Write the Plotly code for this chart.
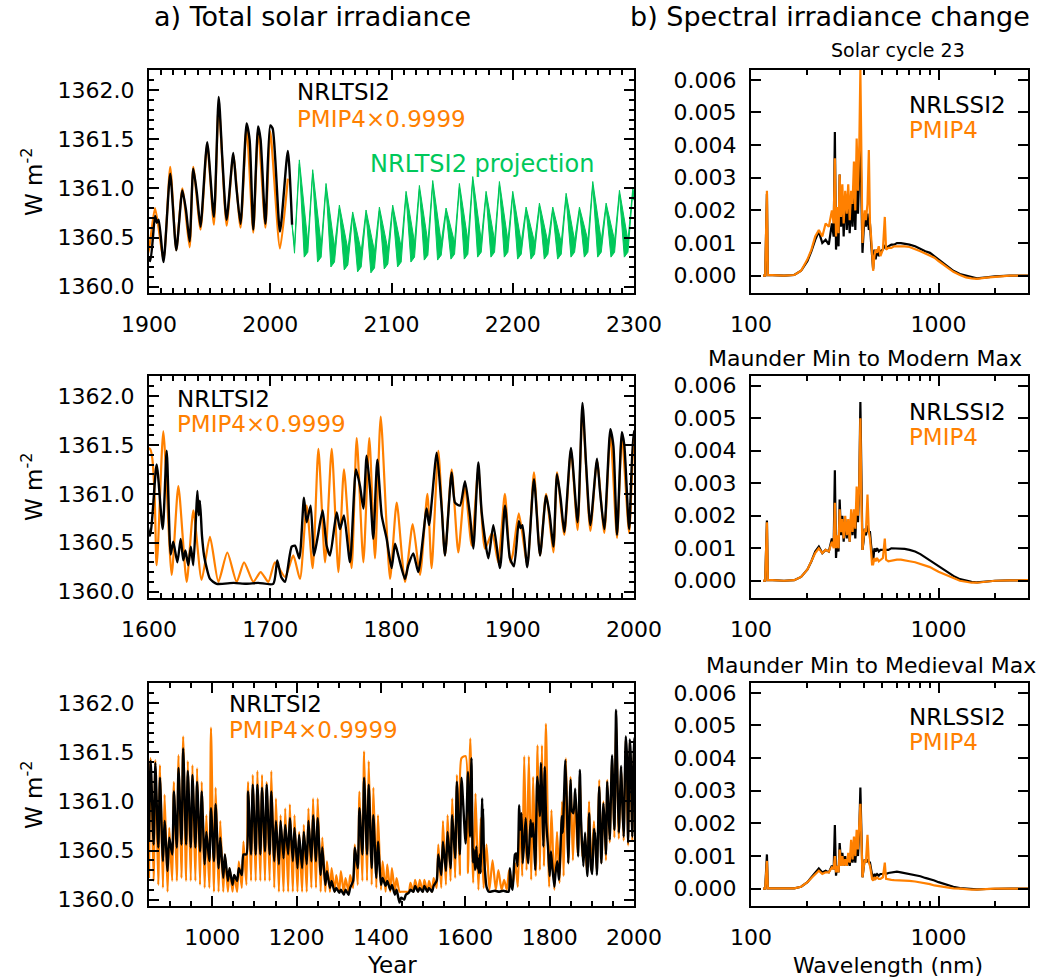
import plotly.graph_objects as go

# ---------------- DATA ----------------
# NRLTSI2 (W m-2), 1600-2018, read from panels a (middle/top)
NRL_YEARS = [1600.8, 1606.3, 1611.3, 1614.6, 1617.9, 1620.0, 1623.4, 1626.1, 1628.3, 1630.0,
             1632.4, 1634.5, 1636.5, 1638.8, 1639.9, 1641.0, 1642.0, 1643.7, 1645.4, 1647.6,
             1650.3, 1655.8, 1670, 1680, 1690, 1702.5, 1705.8, 1709, 1712.2, 1717.7,
             1720.4, 1724.0, 1727.8, 1730.0, 1733.3, 1736.1, 1739, 1743.2, 1746.5, 1749.3,
             1754.8, 1757.5, 1760.8, 1765.8, 1770.7, 1774.0, 1776.8, 1779.5, 1782.3, 1785.0,
             1788.3, 1791.9, 1796.0, 1800.1, 1802.9, 1805.6, 1811.1, 1813.9, 1818.0, 1822.1,
             1829.0, 1831, 1837.3, 1841.4, 1844.1, 1849.6, 1852.4, 1856.5, 1860.6, 1864.7,
             1867.5, 1871.6, 1874.4, 1879.9, 1884.0, 1889.5, 1893.6, 1897.7, 1901.0, 1905.0,
             1906.5, 1908.0, 1912.0, 1917.5, 1922.5, 1927.5, 1930.5, 1933.5, 1936.5, 1939.5,
             1942.5, 1948.0, 1953.5, 1957.5, 1960.5, 1964.0, 1969.5, 1972.0, 1975.5, 1980.5,
             1983.0, 1986.0, 1990.0, 1992.0, 1996.0, 2000.0, 2002.0, 2008.0, 2014.5, 2018.0]
NRL_VALS = [1360.57, 1361.30, 1360.64, 1361.44, 1360.38, 1360.51, 1360.30, 1360.54, 1360.32, 1360.42,
            1360.27, 1360.46, 1360.27, 1360.78, 1361.03, 1360.78, 1360.93, 1360.57, 1360.37, 1360.24,
            1360.13, 1360.08, 1360.09, 1360.08, 1360.09, 1360.08, 1360.32, 1360.15, 1360.10, 1360.46,
            1360.47, 1360.34, 1360.96, 1360.71, 1360.88, 1360.37, 1360.55, 1360.83, 1360.47, 1360.37,
            1360.81, 1360.64, 1360.78, 1360.30, 1361.25, 1361.08, 1360.85, 1361.39, 1361.05, 1360.54,
            1361.35, 1360.78, 1360.54, 1360.24, 1360.49, 1360.37, 1360.13, 1360.27, 1360.39, 1360.20,
            1360.85, 1360.68, 1361.42, 1360.85, 1360.37, 1361.22, 1360.91, 1360.88, 1361.13, 1360.78,
            1360.44, 1361.32, 1360.81, 1360.34, 1360.68, 1360.24, 1360.88, 1360.34, 1360.26, 1360.72,
            1360.65, 1360.68, 1360.25, 1361.15, 1360.37, 1360.98, 1360.78, 1360.46, 1361.20, 1360.95,
            1360.61, 1361.47, 1360.71, 1361.93, 1361.30, 1360.68, 1361.36, 1361.02, 1360.64, 1361.66,
            1361.49, 1360.58, 1361.63, 1361.50, 1360.64, 1361.64, 1361.61, 1360.56, 1361.38, 1360.63]

# PMIP4 x 0.9999 (W m-2), 1600-2015
PMIP_YEARS = [1600.8, 1606.3, 1611.8, 1618.7, 1624.2, 1631.1, 1636.6, 1643.4, 1650.3, 1657.2,
              1664.6, 1672.3, 1678.4, 1686.0, 1692.1, 1698.4, 1703.9, 1712.2, 1719.0, 1724.5,
              1730.0, 1735.0, 1739.7, 1745.2, 1750.7, 1756.2, 1760.8, 1767.1, 1771.3, 1776.8,
              1781.7, 1786.4, 1791.1, 1798.8, 1804.3, 1811.1, 1817.5, 1823.5, 1829.6, 1833.1,
              1838.6, 1844.1, 1849.6, 1855.1, 1860.6, 1866.1, 1871.6, 1877.1, 1883.0, 1888.0,
              1893.5, 1898.0, 1900.0, 1905.0, 1912.0, 1917.5, 1922.5, 1927.5, 1933.5, 1936.5,
              1942.5, 1948.0, 1953.5, 1957.5, 1964.0, 1969.5, 1975.5, 1980.5, 1986.0, 1990.0,
              1996.0, 2000.0, 2008.0, 2014.5]
PMIP_VALS = [1361.46, 1360.27, 1361.64, 1360.17, 1361.08, 1360.10, 1360.83, 1360.12, 1360.56, 1360.10,
             1360.40, 1360.10, 1360.30, 1360.10, 1360.20, 1360.10, 1360.30, 1360.15, 1360.37, 1360.13,
             1360.88, 1360.24, 1361.46, 1360.30, 1361.46, 1360.20, 1361.25, 1360.24, 1361.57, 1360.30,
             1361.57, 1360.34, 1361.79, 1360.13, 1360.91, 1360.10, 1360.69, 1360.17, 1361.00, 1360.24,
             1361.44, 1360.37, 1361.25, 1360.40, 1361.08, 1360.47, 1361.25, 1360.44, 1360.60, 1360.30,
             1361.00, 1360.30, 1360.38, 1360.80, 1360.28, 1361.22, 1360.37, 1361.00, 1360.40, 1361.22,
             1360.58, 1361.45, 1360.63, 1361.85, 1360.62, 1361.34, 1360.60, 1361.62, 1360.55, 1361.60,
             1360.60, 1361.58, 1360.39, 1361.10]

# 850-1595: cycle minima / maxima
MED_MIN_YEARS = [850, 861, 872, 883, 894, 905, 916, 927, 938, 949, 960, 971, 982, 993, 1004, 1015, 1026,
                 1037, 1048, 1059, 1070, 1081, 1092, 1103, 1114, 1125, 1136, 1147, 1158, 1169, 1180,
                 1191, 1202, 1213, 1224, 1235, 1246, 1257, 1268, 1279, 1290, 1301, 1312, 1323, 1334,
                 1345, 1356, 1367, 1378, 1389, 1400, 1411, 1422, 1433, 1444, 1455, 1466, 1477, 1488,
                 1499, 1510, 1521, 1532, 1543, 1554, 1565, 1576, 1587]
MED_MAX_YEARS = [854, 865, 876, 887, 898, 909, 920, 931, 942, 953, 964, 975, 986, 997, 1008, 1019, 1030,
                 1041, 1052, 1063, 1074, 1085, 1096, 1107, 1118, 1129, 1140, 1151, 1162, 1173, 1184,
                 1195, 1206, 1217, 1228, 1239, 1250, 1261, 1272, 1283, 1294, 1305, 1316, 1327, 1338,
                 1349, 1360, 1371, 1382, 1393, 1404, 1415, 1426, 1437, 1448, 1459, 1470, 1481, 1492,
                 1503, 1514, 1525, 1536, 1547, 1558, 1569, 1580, 1591]
MED_PMIP_MAX = [1361.44, 1361.42, 1361.37, 1361.07, 1360.73, 1361.20, 1361.47, 1361.66, 1361.41, 1361.37,
                1361.34, 1361.20, 1360.86, 1361.75, 1361.14, 1360.80, 1360.46, 1360.32, 1360.25, 1360.39,
                1360.59, 1361.20, 1361.27, 1361.31, 1361.27, 1361.20, 1361.31, 1361.03, 1360.86, 1360.93,
                1360.97, 1360.86, 1360.69, 1360.76, 1360.93, 1361.03, 1361.03, 1360.63, 1360.39, 1360.32,
                1360.25, 1360.29, 1360.22, 1360.25, 1360.56, 1361.10, 1361.51, 1361.41, 1361.14, 1360.86,
                1360.39, 1360.36, 1360.32, 1360.22, 1360.08, 1360.08, 1360.17, 1360.20, 1360.20, 1360.20,
                1360.19, 1360.22, 1360.56, 1360.80, 1360.86, 1361.03, 1361.27, 1361.44]
MED_PMIP_MIN = [1360.22, 1360.19, 1360.15, 1360.12, 1360.08, 1360.19, 1360.19, 1360.22, 1360.19, 1360.19,
                1360.19, 1360.15, 1360.12, 1360.12, 1360.08, 1360.08, 1360.08, 1360.08, 1360.08, 1360.08,
                1360.12, 1360.15, 1360.19, 1360.19, 1360.19, 1360.19, 1360.19, 1360.12, 1360.08, 1360.08,
                1360.08, 1360.08, 1360.08, 1360.08, 1360.08, 1360.12, 1360.12, 1360.08, 1360.08, 1360.08,
                1360.08, 1360.08, 1360.07, 1360.08, 1360.12, 1360.15, 1360.19, 1360.19, 1360.15, 1360.12,
                1360.10, 1360.08, 1360.08, 1360.08, 1360.08, 1360.08, 1360.08, 1360.08, 1360.08, 1360.08,
                1360.08, 1360.08, 1360.12, 1360.12, 1360.15, 1360.19, 1360.22, 1360.25]
MED_NRL_MAX = [1361.41, 1361.39, 1361.24, 1360.80, 1360.63, 1361.10, 1361.34, 1361.54, 1361.31, 1361.27,
               1361.20, 1361.10, 1360.69, 1360.93, 1360.97, 1360.63, 1360.46, 1360.32, 1360.25, 1360.32,
               1360.46, 1361.10, 1361.17, 1361.17, 1361.14, 1361.17, 1361.10, 1360.80, 1360.80, 1360.76,
               1360.83, 1360.73, 1360.66, 1360.69, 1360.80, 1360.86, 1360.83, 1360.53, 1360.29, 1360.19,
               1360.12, 1360.10, 1360.10, 1360.12, 1360.53, 1360.93, 1361.24, 1361.17, 1360.86, 1360.59,
               1360.22, 1360.19, 1360.15, 1360.10, 1360.02, 1360.05, 1360.10, 1360.14, 1360.12, 1360.14,
               1360.12, 1360.14, 1360.46, 1360.59, 1360.69, 1360.86, 1361.20, 1361.24]
MED_NRL_MIN = [1360.59, 1360.56, 1360.53, 1360.39, 1360.29, 1360.46, 1360.53, 1360.56, 1360.56, 1360.53,
               1360.53, 1360.49, 1360.36, 1360.39, 1360.39, 1360.32, 1360.22, 1360.19, 1360.15, 1360.19,
               1360.25, 1360.46, 1360.46, 1360.46, 1360.46, 1360.49, 1360.46, 1360.39, 1360.36, 1360.42,
               1360.46, 1360.39, 1360.32, 1360.32, 1360.36, 1360.39, 1360.39, 1360.25, 1360.15, 1360.12,
               1360.08, 1360.07, 1360.05, 1360.05, 1360.19, 1360.32, 1360.46, 1360.46, 1360.32, 1360.22,
               1360.15, 1360.14, 1360.10, 1360.05, 1359.97, 1360.00, 1360.07, 1360.08, 1360.08, 1360.08,
               1360.08, 1360.08, 1360.19, 1360.25, 1360.29, 1360.32, 1360.42, 1360.46]

# NRLTSI2 projection: per-cycle peak year / peak value and the band's upper/lower minima
PROJ_PEAK_YEARS = [2024, 2035, 2046, 2057, 2068, 2079, 2090, 2101, 2112, 2123, 2134, 2145, 2156,
                   2167, 2178, 2189, 2200, 2211, 2222, 2233, 2244, 2255, 2266, 2277, 2288, 2299]
PROJ_PEAK = [1361.29, 1361.19, 1361.05, 1360.83, 1360.76, 1360.78, 1360.81, 1360.83, 1360.97, 1361.03,
             1361.08, 1360.80, 1361.05, 1361.12, 1360.97, 1361.07, 1360.97, 1360.81, 1360.85, 1360.81,
             1360.95, 1360.81, 1361.07, 1360.85, 1360.98, 1361.00]
PROJ_MIN_UP = [1360.45, 1360.42, 1360.40, 1360.38, 1360.36, 1360.36, 1360.38, 1360.40, 1360.45, 1360.45,
               1360.45, 1360.45, 1360.47, 1360.47, 1360.47, 1360.47, 1360.45, 1360.45, 1360.45, 1360.45,
               1360.47, 1360.47, 1360.47, 1360.47, 1360.47, 1360.47]
PROJ_MIN_LO = [1360.30, 1360.25, 1360.20, 1360.17, 1360.15, 1360.14, 1360.18, 1360.20, 1360.25, 1360.27,
               1360.27, 1360.28, 1360.28, 1360.30, 1360.30, 1360.30, 1360.28, 1360.28, 1360.28, 1360.28,
               1360.30, 1360.30, 1360.30, 1360.30, 1360.30, 1360.30]
PROJ_START = (2018.0, 1360.63)
PROJ_FIRST_MIN = (2020.0, 1360.42)

# Spectral irradiance change (units of 1e-3 W m-2 nm-1) on a common wavelength grid (nm)
WL = [116, 119, 121.6, 123, 130, 150, 170, 185, 200, 210, 220, 230, 240, 250, 260, 270, 276, 280, 284, 288,
      293, 297, 302, 307, 312, 318, 324, 330, 336, 342, 348, 354, 360, 366, 372, 378, 383, 388, 393, 398,
      404, 410, 418, 425, 431, 437, 442, 448, 455, 462, 470, 480, 490, 505, 517, 525, 540, 560, 580, 600,
      630, 660, 700, 750, 800, 850, 900, 950, 1000, 1100, 1200, 1300, 1400, 1500, 1600, 1800, 2000, 2400, 3000]
SC23_NRL = [0, 0, 2.5, 0.02, 0.02, 0.0, 0.02, 0.15, 0.45, 0.75, 1.1, 1.35, 1.0, 1.1, 0.95, 1.6, 1.2, 4.4, 0.8, 1.6,
            0.9, 3.1, 1.5, 2.4, 1.2, 2.5, 1.4, 2.2, 1.3, 2.3, 1.5, 2.6, 1.4, 2.9, 1.9, 3.5, 4.3, 2.4, 0.7, 1.3,
            1.9, 1.5, 1.9, 1.4, 1.6, 1.0, 0.6, 0.2, 0.8, 0.5, 0.8, 0.6, 0.75, 0.8, 0.9, 0.85, 0.9, 0.95, 0.95, 1.0,
            1.0, 0.98, 0.95, 0.9, 0.82, 0.75, 0.7, 0.6, 0.5, 0.3, 0.15, 0.05, 0.0, -0.05, -0.08, -0.05, -0.02, 0.0, 0.0]
SC23_PMIP = [0, 0, 2.6, 0.02, 0.02, 0.0, 0.02, 0.15, 0.5, 0.8, 1.2, 1.4, 1.2, 1.6, 1.5, 2.0, 1.6, 3.6, 1.2, 2.1,
             1.3, 3.1, 1.8, 2.8, 1.6, 2.6, 1.9, 2.8, 1.7, 2.6, 2.2, 3.5, 2.0, 4.2, 2.6, 4.0, 6.3, 3.0, 1.0, 1.6,
             2.0, 1.7, 2.2, 3.85, 1.6, 1.2, 0.5, 0.15, 0.6, 0.8, 0.7, 0.9, 0.6, 0.8, 1.8, 0.8, 0.85, 0.85, 0.9, 0.9,
             0.92, 0.9, 0.88, 0.82, 0.75, 0.68, 0.62, 0.55, 0.45, 0.28, 0.12, 0.02, -0.05, -0.08, -0.1, -0.06, -0.03, 0.0, 0.0]
MOD_NRL = [0, 0, 1.85, 0.02, 0.02, 0.0, 0.02, 0.12, 0.35, 0.6, 0.9, 1.05, 0.85, 0.95, 0.9, 1.3, 1.1, 3.4, 0.7, 1.3,
           0.9, 2.5, 1.4, 2.0, 1.2, 1.9, 1.3, 1.8, 1.2, 2.0, 1.4, 2.1, 1.3, 2.4, 1.8, 3.0, 5.5, 2.6, 0.95, 1.2,
           1.6, 1.4, 1.7, 1.5, 1.5, 1.1, 0.8, 0.6, 1.0, 0.9, 1.0, 0.9, 0.95, 0.95, 0.95, 0.95, 0.95, 1.0, 1.0, 1.0,
           1.0, 0.98, 0.95, 0.9, 0.82, 0.72, 0.65, 0.55, 0.45, 0.3, 0.15, 0.05, 0.0, -0.03, -0.05, -0.02, 0.0, 0.01, 0.02]
MOD_PMIP = [0, 0, 1.8, 0.02, 0.02, 0.0, 0.02, 0.12, 0.35, 0.6, 0.85, 1.0, 0.85, 0.95, 0.9, 1.2, 1.0, 2.4, 1.0, 1.4,
            1.0, 2.2, 1.5, 1.9, 1.3, 2.0, 1.4, 1.9, 1.2, 2.2, 1.5, 2.2, 1.6, 2.9, 2.0, 3.0, 5.0, 2.5, 0.95, 1.3,
            1.6, 1.5, 2.65, 1.5, 1.3, 0.9, 0.5, 0.5, 0.7, 0.6, 0.7, 0.6, 0.65, 0.7, 1.3, 0.65, 0.6, 0.62, 0.65, 0.65,
            0.65, 0.62, 0.6, 0.57, 0.52, 0.45, 0.42, 0.35, 0.28, 0.18, 0.08, 0.0, -0.03, -0.06, -0.06, -0.03, 0.0, 0.01, 0.02]
MED_NRL_SSI = [0, 0, 1.05, 0.01, 0.01, 0.0, 0.01, 0.06, 0.2, 0.35, 0.5, 0.62, 0.5, 0.55, 0.5, 0.7, 0.6, 1.95, 0.4, 0.7,
               0.5, 1.4, 0.8, 1.1, 0.7, 1.0, 0.7, 0.95, 0.7, 1.1, 0.8, 1.2, 0.8, 1.4, 1.0, 1.8, 3.1, 1.4, 0.35, 0.6,
               0.9, 0.8, 0.9, 0.8, 0.8, 0.6, 0.4, 0.25, 0.45, 0.4, 0.45, 0.4, 0.45, 0.45, 0.5, 0.45, 0.48, 0.5, 0.52, 0.52,
               0.5, 0.48, 0.46, 0.42, 0.38, 0.33, 0.3, 0.25, 0.2, 0.12, 0.06, 0.02, 0.0, -0.02, -0.02, -0.01, 0.0, 0.0, 0.0]
MED_PMIP_SSI = [0, 0, 0.85, 0.01, 0.01, 0.0, 0.01, 0.06, 0.2, 0.33, 0.45, 0.55, 0.45, 0.5, 0.5, 0.65, 0.6, 1.0, 0.5, 0.7,
                0.5, 1.2, 0.7, 1.0, 0.7, 0.9, 0.7, 1.1, 0.8, 1.5, 0.9, 1.6, 1.0, 1.8, 1.2, 1.9, 2.6, 1.5, 0.35, 0.6,
                0.9, 0.8, 1.65, 0.8, 0.7, 0.5, 0.3, 0.25, 0.35, 0.3, 0.35, 0.3, 0.3, 0.35, 0.8, 0.3, 0.28, 0.27, 0.26, 0.26,
                0.25, 0.25, 0.24, 0.22, 0.2, 0.17, 0.14, 0.1, 0.08, 0.04, 0.01, 0.0, -0.02, -0.03, -0.03, -0.01, 0.0, 0.0, 0.0]

# ---------------- FIGURE ----------------
W, H = 1059, 978
BLACK = "black"
ORANGE = "#ff8000"
GREEN = "#00c85a"
FONT = "DejaVu Sans"
TICKFONT = dict(family=FONT, size=22, color="black")

def dom_x(a, b):
    return [a / W, b / W]

def dom_y(t, b):
    return [1 - b / H, 1 - t / H]

LX = (149, 634)
RX = (751, 1028)
ROWS = [(70, 293), (376, 598), (683, 906)]

# full TSI series
nrl_x, nrl_y, pm_x, pm_y = [], [], [], []
for i in range(len(MED_MIN_YEARS)):
    nrl_x += [MED_MIN_YEARS[i], MED_MAX_YEARS[i]]
    nrl_y += [MED_NRL_MIN[i], MED_NRL_MAX[i]]
    pm_x += [MED_MIN_YEARS[i], MED_MAX_YEARS[i]]
    pm_y += [MED_PMIP_MIN[i], MED_PMIP_MAX[i]]
nrl_x += NRL_YEARS
nrl_y += NRL_VALS
pm_x += PMIP_YEARS
pm_y += PMIP_VALS

# projection band polygon: upper edge descends slowly, lower edge drops fast after each peak
up_x, up_y = [PROJ_START[0], PROJ_FIRST_MIN[0]], [PROJ_START[1], PROJ_FIRST_MIN[1]]
lo_x, lo_y = [PROJ_START[0], PROJ_FIRST_MIN[0]], [PROJ_START[1], PROJ_FIRST_MIN[1] - 0.08]
for i, py in enumerate(PROJ_PEAK_YEARS):
    up_x += [py]
    up_y += [PROJ_PEAK[i]]
    lo_x += [py]
    lo_y += [PROJ_PEAK[i] - 0.04]
    if py + 7 <= 2300:
        up_x += [py + 7]
        up_y += [PROJ_MIN_UP[i]]
        lo_x += [py + 4, py + 7]
        lo_y += [PROJ_MIN_LO[i], PROJ_MIN_LO[i] + 0.05]
up_x += [2300]
up_y += [PROJ_PEAK[-1] - 0.05]
lo_x += [2300]
lo_y += [PROJ_PEAK[-1] - 0.12]

fig = go.Figure()

left_axes = [("x", "y"), ("x3", "y3"), ("x5", "y5")]
right_axes = [("x2", "y2"), ("x4", "y4"), ("x6", "y6")]

for k, (xa, ya) in enumerate(left_axes):
    if k == 0:
        fig.add_trace(go.Scatter(x=up_x + lo_x[::-1], y=up_y + lo_y[::-1], mode="lines",
                                 fill="toself", fillcolor=GREEN, line=dict(color=GREEN, width=1),
                                 xaxis=xa, yaxis=ya, showlegend=False, hoverinfo="skip"))
    fig.add_trace(go.Scatter(x=pm_x, y=pm_y, mode="lines",
                             line=dict(color=ORANGE, width=2.2, shape="spline", smoothing=0.6),
                             xaxis=xa, yaxis=ya, showlegend=False))
    fig.add_trace(go.Scatter(x=nrl_x, y=nrl_y, mode="lines",
                             line=dict(color=BLACK, width=2.4, shape="spline", smoothing=0.6),
                             xaxis=xa, yaxis=ya, showlegend=False))

ssi_sets = [(SC23_NRL, SC23_PMIP), (MOD_NRL, MOD_PMIP), (MED_NRL_SSI, MED_PMIP_SSI)]
for k, (xa, ya) in enumerate(right_axes):
    nrl, pm = ssi_sets[k]
    fig.add_trace(go.Scatter(x=WL, y=[v * 1e-3 for v in nrl], mode="lines",
                             line=dict(color=BLACK, width=2.2), xaxis=xa, yaxis=ya, showlegend=False))
    fig.add_trace(go.Scatter(x=WL, y=[v * 1e-3 for v in pm], mode="lines",
                             line=dict(color=ORANGE, width=2.2), xaxis=xa, yaxis=ya, showlegend=False))

base = dict(showline=True, linecolor="black", linewidth=2, mirror="ticks", ticks="inside",
            ticklen=10, tickwidth=1.5, tickcolor="black", showgrid=False, zeroline=False,
            tickfont=TICKFONT, automargin=False)
minor_base = dict(ticks="inside", ticklen=5, tickwidth=1.5, tickcolor="black", showgrid=False)

xranges = [(1900, 2300, 100, 1900, 10), (1600, 2000, 100, 1600, 10), (850, 2000, 200, 1000, 50)]
layout = {}
for k in range(3):
    t, b = ROWS[k]
    lo, hi, dt, t0, mdt = xranges[k]
    xi = 2 * k + 1
    xname = "xaxis" if xi == 1 else f"xaxis{xi}"
    yname = "yaxis" if xi == 1 else f"yaxis{xi}"
    layout[xname] = dict(base, domain=dom_x(*LX), range=[lo, hi], dtick=dt, tick0=t0,
                         tickformat="d", anchor="y" if xi == 1 else f"y{xi}",
                         ticklabelstandoff=11,
                         minor=dict(minor_base, dtick=mdt, tick0=t0))
    layout[yname] = dict(base, domain=dom_y(t, b), range=[1359.935, 1362.205], dtick=0.5,
                         tick0=1360, tickformat=".1f", anchor="x" if xi == 1 else f"x{xi}",
                         ticklabelstandoff=8,
                         minor=dict(minor_base, dtick=0.1, tick0=1360))
    xr = 2 * k + 2
    layout[f"xaxis{xr}"] = dict(base, domain=dom_x(*RX), type="log", range=[2, 3.4771],
                                tickmode="array", tickvals=[100, 1000], ticktext=["100", "1000"],
                                anchor=f"y{xr}", ticklabelstandoff=11,
                                minor=dict(minor_base, tickmode="array",
                                           tickvals=[200, 300, 400, 500, 600, 700, 800, 900, 2000]))
    layout[f"yaxis{xr}"] = dict(base, domain=dom_y(t, b), range=[-0.00053, 0.0063], dtick=0.001,
                                tick0=0, tickformat=".3f", anchor=f"x{xr}", ticklabelstandoff=8)

fig.update_layout(**layout)

ann = []
def txt(x, y, s, color="black", size=23, xanchor="left", angle=0):
    ann.append(dict(x=x / W, y=1 - y / H, xref="paper", yref="paper", text=s, showarrow=False,
                    xanchor=xanchor, yanchor="middle", textangle=angle,
                    font=dict(family=FONT, size=size, color=color)))

txt(312, 17, "a) Total solar irradiance", size=27, xanchor="center")
txt(830, 17, "b) Spectral irradiance change", size=27, xanchor="center")
txt(898, 50, "Solar cycle 23", size=19, xanchor="center")
txt(865, 358, "Maunder Min to Modern Max", size=22, xanchor="center")
txt(871, 665, "Maunder Min to Medieval Max", size=22, xanchor="center")

# legends left panels
txt(295, 92, "NRLTSI2")
txt(295, 119, "PMIP4×0.9999", color=ORANGE)
txt(368, 164, "NRLTSI2 projection", color=GREEN, size=24)
txt(175, 399, "NRLTSI2")
txt(175, 424, "PMIP4×0.9999", color=ORANGE)
txt(227, 704, "NRLTSI2")
txt(227, 730, "PMIP4×0.9999", color=ORANGE)
# legends right panels
for yy in (105, 412, 717):
    txt(907, yy, "NRLSSI2")
    txt(907, yy + 25, "PMIP4", color=ORANGE)

# axis titles
for yc in (182, 487, 795):
    txt(32, yc, "W m<sup>-2</sup>", size=23, xanchor="center", angle=-90)
txt(392, 965, "Year", size=23, xanchor="center")
txt(888, 965, "Wavelength (nm)", size=22, xanchor="center")

fig.update_layout(annotations=ann, width=W, height=H, margin=dict(l=0, r=0, t=0, b=0),
                  paper_bgcolor="white", plot_bgcolor="white", showlegend=False)

fig.write_html("out.html")
